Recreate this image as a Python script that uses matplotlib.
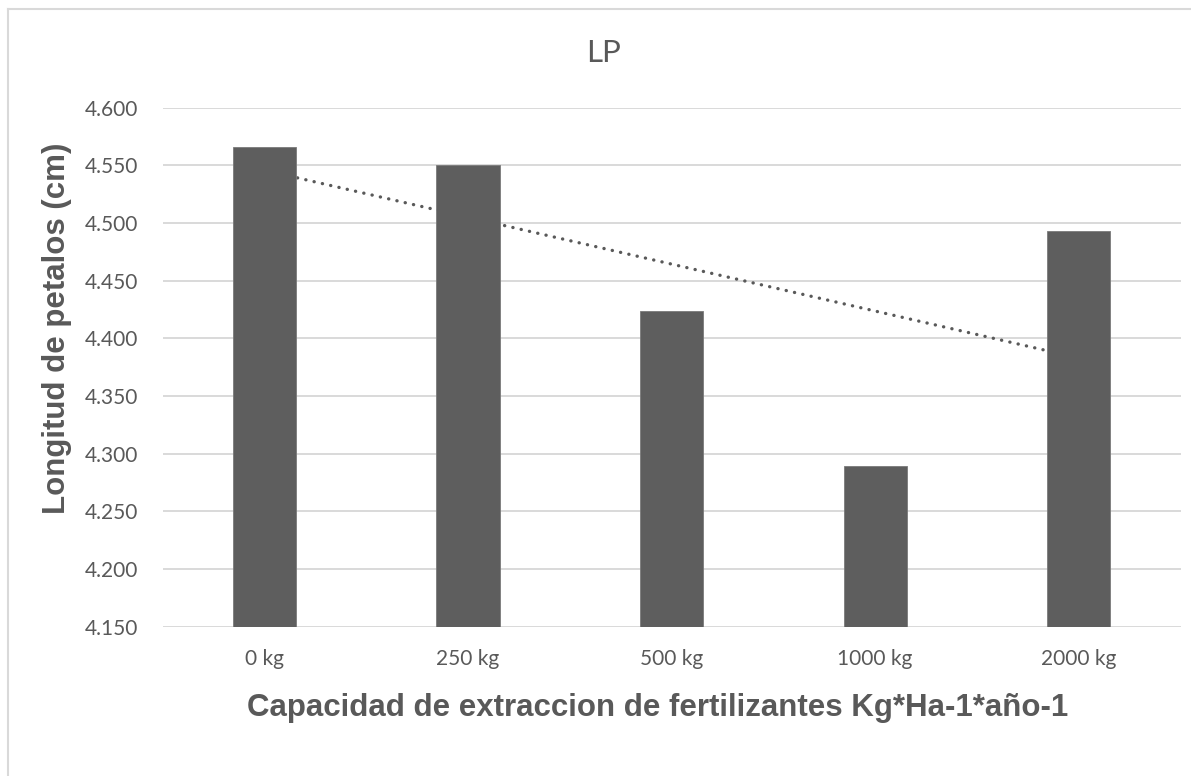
import numpy as np
import matplotlib
matplotlib.use("Agg")
import matplotlib.pyplot as plt
from matplotlib.lines import Line2D

# values
categories = ["0 kg", "250 kg", "500 kg", "1000 kg", "2000 kg"]
lengths = [4.566, 4.550, 4.424, 4.289, 4.493]
y_ticks = [4.150, 4.200, 4.250, 4.300, 4.350, 4.400, 4.450, 4.500, 4.550, 4.600]

TEXT = "#595959"
BAR = "#5e5e5e"
GRID = "#d9d9d9"

fig = plt.figure(figsize=(11.91, 7.76), dpi=100)
ax = fig.add_axes([0.1365, 0.1924, 0.8547, 0.6688])

x = np.arange(len(categories))
ax.bar(x, lengths, width=0.31, color=BAR, edgecolor="#7a7a7a", linewidth=0.6, zorder=3)

# linear trend line (drawn behind the bars, like Excel)
slope, intercept = np.polyfit(x, lengths, 1)
ax.plot(x, slope * x + intercept, color=TEXT, linewidth=2.4,
        linestyle=(0, (0.05, 2.5)), dash_capstyle="round", zorder=2)

ax.set_xlim(-0.5, len(categories) - 0.5)
ax.set_ylim(y_ticks[0], y_ticks[-1])
ax.set_yticks(y_ticks)
ax.set_yticklabels([f"{v:.3f}" for v in y_ticks])
ax.set_xticks(x)
ax.set_xticklabels(categories)

ax.grid(axis="y", color=GRID, linewidth=1.4, zorder=0)
ax.set_axisbelow(True)
for side in ["top", "right", "left", "bottom"]:
    ax.spines[side].set_visible(False)
ax.tick_params(axis="both", length=0, labelsize=15, labelcolor=TEXT)
ax.tick_params(axis="y", pad=17.5)
ax.tick_params(axis="x", pad=16)
for lab in ax.get_xticklabels() + ax.get_yticklabels():
    lab.set_family("Lato")

fig.text(604 / 1191, 1 - 53 / 776, "LP", ha="center", va="center",
         fontsize=22.5, color=TEXT, family="Lato")
fig.text(658 / 1191, 1 - 708 / 776,
         "Capacidad de extraccion de fertilizantes Kg*Ha-1*año-1",
         ha="center", va="center", fontsize=22.5, fontweight="bold",
         color=TEXT, family="Liberation Sans")
fig.text(57 / 1191, 1 - 328 / 776, "Longitud de petalos (cm)", rotation=90,
         ha="center", va="center", fontsize=22.5, fontweight="bold",
         color=TEXT, family="Liberation Sans")

# chart area border (left and top edges visible)
fig.add_artist(Line2D([8 / 1191, 8 / 1191], [0, 1 - 9 / 776],
                      transform=fig.transFigure, color=GRID, linewidth=1.5))
fig.add_artist(Line2D([8 / 1191, 1], [1 - 9 / 776, 1 - 9 / 776],
                      transform=fig.transFigure, color=GRID, linewidth=1.5))

fig.savefig("out.png", dpi=100)
